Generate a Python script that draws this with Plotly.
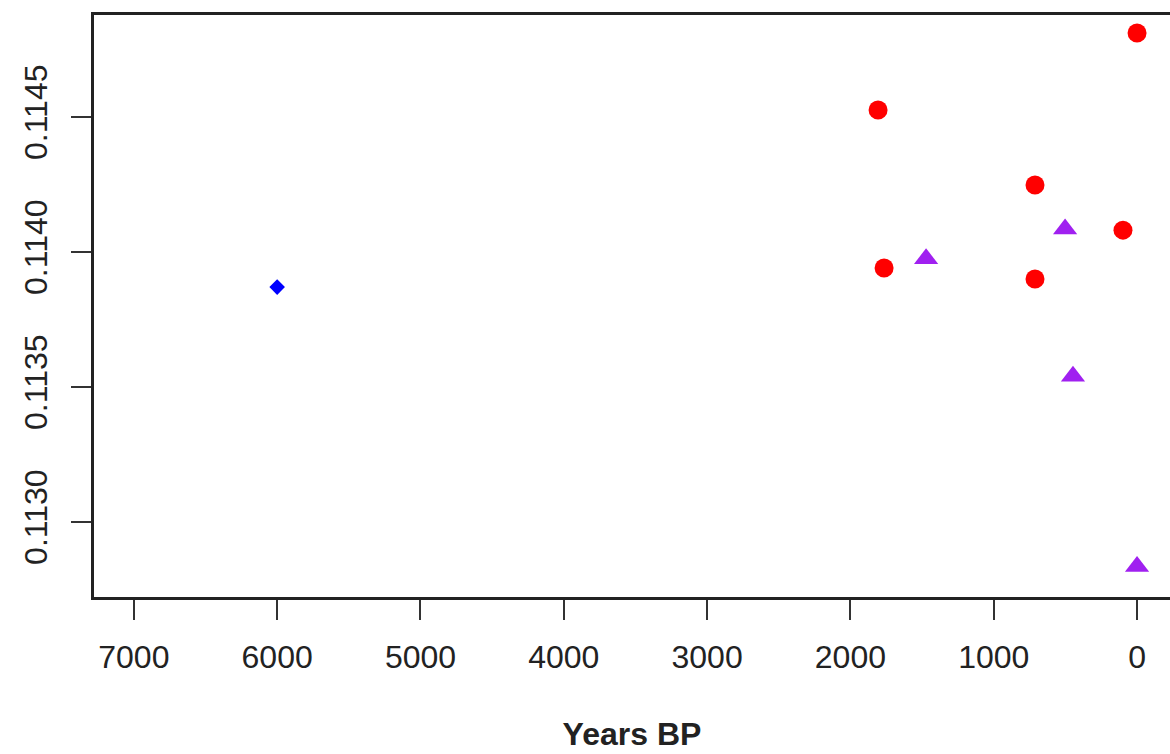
import plotly.graph_objects as go

# Data
diamond_x = [6000]
diamond_y = [0.11387]

circle_x = [1807, 0, 1765, 712, 98, 712]
circle_y = [0.114526, 0.114811, 0.113941, 0.114248, 0.114081, 0.113900]

triangle_x = [1472, 502, 447, 0]
triangle_y = [0.113975, 0.114085, 0.113540, 0.112835]

x_ticks = [7000, 6000, 5000, 4000, 3000, 2000, 1000, 0]
y_ticks = [0.1130, 0.1135, 0.1140, 0.1145]
y_tick_text = ["0.1130", "0.1135", "0.1140", "0.1145"]

fig = go.Figure()
fig.add_trace(go.Scatter(x=diamond_x, y=diamond_y, mode="markers",
                         marker=dict(symbol="diamond", size=12, color="#0000FF"),
                         showlegend=False))
fig.add_trace(go.Scatter(x=circle_x, y=circle_y, mode="markers",
                         marker=dict(symbol="circle", size=19, color="#FF0000"),
                         showlegend=False))
fig.add_trace(go.Scatter(x=triangle_x, y=triangle_y, mode="markers",
                         marker=dict(symbol="triangle-up", size=21, color="#A020F0"),
                         showlegend=False))

font_family = "Liberation Sans, Arial, Helvetica, sans-serif"

fig.update_layout(
    width=1170, height=754,
    margin=dict(l=94, r=0, t=15, b=157),
    paper_bgcolor="white", plot_bgcolor="white",
    font=dict(family=font_family, size=32, color="#222222"),
    xaxis=dict(
        range=[7278, -230], tickvals=x_ticks, ticktext=[str(v) for v in x_ticks],
        showgrid=False, zeroline=False,
        showline=True, mirror=True, linecolor="#222222", linewidth=3,
        ticks="outside", ticklen=20, tickwidth=2, tickcolor="#333333",
        ticklabelstandoff=10,
        title=dict(text="<b>Years BP</b>", font=dict(size=32, family=font_family, color="#222222"),
                   standoff=49),
    ),
    yaxis=dict(
        range=[0.112722, 0.114878], tickvals=y_ticks, ticktext=y_tick_text,
        showgrid=False, zeroline=False,
        showline=True, mirror=False, linecolor="#222222", linewidth=3,
        ticks="outside", ticklen=20, tickwidth=2, tickcolor="#333333",
        tickangle=-90, ticklabelstandoff=11,
    ),
)

fig.write_html("out.html")
